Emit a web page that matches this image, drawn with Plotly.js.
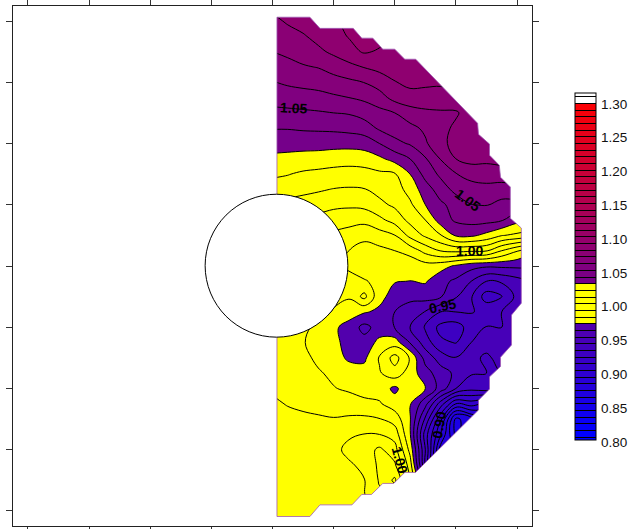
<!DOCTYPE html>
<html>
<head>
<meta charset="utf-8">
<script src="https://cdn.plot.ly/plotly-3.0.1.min.js"></script>
<style>
html,body{margin:0;padding:0;background:#fff}
#chart{width:628px;height:529px}
</style>
</head>
<body>
<div id="chart"></div>
<script>
// Grid node positions in axis units
const gridX = [0,2.5,5,7.5,10,12.5,15,17.5,20,22.5,25,27.5,30,32.5,35,37.5,40,42.5];
const gridY = [42.5,40,37.5,35,32.5,30,27.5,25,22.5,20,17.5,15,12.5,10,7.5,5,2.5,0,-2.5,-5,-7.5,-10,-12.5,-15,-17.5,-20,-22.5,-25,-27.5,-30,-32.5,-35,-37.5,-40,-42.5];

// Field values, one row per gridY (top to bottom); rows stop just past the domain edge
const fieldRows = [
[1.082,1.085,1.087,1.09,1.091,1.093,1.095,1.095],
[1.078,1.081,1.084,1.087,1.089,1.092,1.094,1.094],
[1.074,1.077,1.079,1.083,1.087,1.0905,1.095,1.093,1.09,1.09],
[1.07,1.072,1.075,1.078,1.082,1.087,1.091,1.089,1.088,1.087,1.087],
[1.065,1.067,1.069,1.0705,1.074,1.077,1.0805,1.083,1.084,1.085,1.087,1.088,1.088],
[1.0595,1.0615,1.062,1.0635,1.066,1.068,1.0702,1.0745,1.0795,1.083,1.082,1.082,1.085,1.086,1.086],
[1.054,1.055,1.057,1.057,1.0584,1.06,1.062,1.066,1.0736,1.0755,1.076,1.0747,1.076,1.078,1.078,1.078],
[1.0473,1.0477,1.048,1.049,1.05,1.0508,1.054,1.057,1.06,1.066,1.068,1.069,1.069,1.074,1.076,1.077,1.077],
[1.0405,1.0405,1.0412,1.0415,1.042,1.043,1.045,1.0515,1.0545,1.057,1.062,1.0675,1.0715,1.075,1.077,1.078,1.078],
[1.034,1.034,1.034,1.034,1.0335,1.0335,1.0345,1.04,1.0473,1.051,1.0585,1.068,1.0725,1.075,1.0765,1.0775,1.078],
[1.0278,1.027,1.026,1.0254,1.0244,1.0238,1.0245,1.028,1.0337,1.04,1.049,1.0605,1.07,1.0735,1.0725,1.0735,1.074],
[1.0216,1.0204,1.0185,1.0175,1.0165,1.016,1.0165,1.018,1.019,1.03,1.0435,1.052,1.0595,1.0635,1.0645,1.0655,1.066],
[1.0155,1.015,1.0127,1.011,1.0096,1.009,1.0095,1.013,1.015,1.024,1.035,1.045,1.053,1.0558,1.057,1.0553,1.057,1.057],
[1.006,1.006,1.0055,1.005,1.0024,1.0019,1.0027,1.0076,1.0118,1.018,1.03,1.038,1.044,1.0498,1.0505,1.047,1.0465,1.046],
[0.999,0.998,0.997,0.996,0.9945,0.993,0.9929,0.9975,1.0039,1.0128,1.02,1.035,1.0415,1.0433,1.0433,1.041,1.033,1.03],
[0.99,0.99,0.99,0.989,0.988,0.9865,0.9825,0.9857,0.9897,1.0029,1.0118,1.0193,1.0314,1.032,1.0272,1.0205,1.018,1.015],
[0.985,0.985,0.985,0.984,0.982,0.98,0.9765,0.9775,0.98,0.984,0.9933,1.0005,1.0025,1.0017,1.001,0.99,0.981,0.972],
[0.982,0.982,0.982,0.982,0.981,0.979,0.974,0.974,0.973,0.973,0.976,0.974,0.9685,0.9635,0.9615,0.962,0.962,0.962],
[0.983,0.983,0.983,0.983,0.983,0.982,0.981,0.977,0.9705,0.9698,0.971,0.963,0.958,0.95,0.94,0.9415,0.946,0.95],
[0.984,0.984,0.984,0.984,0.983,0.981,0.993,0.973,0.966,0.963,0.964,0.961,0.951,0.941,0.925,0.929,0.943,0.948],
[0.986,0.986,0.986,0.985,0.979,0.975,0.971,0.968,0.96,0.9544,0.9495,0.94,0.94,0.9405,0.938,0.94,0.9465,0.95],
[0.985,0.984,0.982,0.978,0.972,0.966,0.957,0.964,0.9598,0.95,0.9385,0.927,0.925,0.935,0.9402,0.94,0.9435,0.948],
[0.985,0.983,0.9805,0.977,0.973,0.966,0.9635,0.973,0.975,0.9595,0.9453,0.932,0.9295,0.94,0.9445,0.945,0.948,0.95],
[0.986,0.984,0.9825,0.978,0.975,0.968,0.968,0.981,0.994,0.979,0.956,0.9455,0.9405,0.943,0.938,0.944,0.95],
[0.988,0.9855,0.9835,0.981,0.978,0.976,0.974,0.979,0.986,0.975,0.9645,0.9545,0.948,0.941,0.94,0.94],
[0.9888,0.9865,0.985,0.9825,0.9805,0.9785,0.9755,0.976,0.9675,0.978,0.97,0.9557,0.94,0.933,0.935,0.93],
[0.9915,0.9895,0.9885,0.9875,0.986,0.9848,0.983,0.981,0.975,0.971,0.9535,0.925,0.9,0.905,0.9],
[0.9935,0.9925,0.9915,0.991,0.9905,0.9915,0.992,0.9905,0.9856,0.9708,0.938,0.902,0.857,0.868,0.88],
[0.9945,0.994,0.9935,0.993,0.995,0.9985,1.0003,1.0,0.9958,0.971,0.925,0.89,0.857,0.87],
[0.9955,0.9955,0.9955,0.9955,0.997,1.0028,1.005,1.012,1.004,0.977,0.93,0.875,0.87],
[0.997,0.997,0.997,0.9975,0.998,0.9985,1.0025,1.012,1.0115,0.985,0.93,0.88],
[0.998,0.998,0.998,0.9985,0.9985,0.999,0.9995,1.011,1.022,0.99,0.95],
[0.9985,0.9988,0.999,0.999,0.999,0.9992,0.9993,1.008,1.01,0.99],
[0.999,0.999,0.9992,0.9992,0.9993,0.9993,0.9994,1.0,1.0],
[0.999,0.999,0.9992,0.9992,0.9993,0.9993,0.9994,1.0,1.0]
];

const tickValues = [-40,-30,-20,-10,0,10,20,30,40];
const legendValues = [0.80,0.85,0.90,0.95,1.00,1.05,1.10,1.15,1.20,1.25,1.30];
const legendLabels = ["0.80","0.85","0.90","0.95","1.00","1.05","1.10","1.15","1.20","1.25","1.30"];

const labelText  = ["1.05","1.05","1.00","0.95","0.90","1.00"];
const labelX     = [3.5,31.9,32.2,27.8,27.3,20.8];
const labelY     = [25.76,10.74,2.4,-6.56,-26,-31.7];
const labelAngle = [3,37,0,-12,-80,75];

// Domain outline in axis units
const edgeX = [0.73,6.12,7.76,13.2,14.61,16.41,18.04,20.0,21.63,23.43,33.55,33.7,35.5,35.5,37.1,37.3,38.9,38.9,40.7,40.7,39.1,39.1,37.3,37.3,35.5,35.5,33.7,33.7,23.4,21.63,19.84,18.04,16.2,14.6,13.0,7.76,6.12,0.73];
const edgeY = [40.62,40.62,38.8,38.8,37.2,37.2,35.4,35.4,33.76,33.76,23.3,21.5,19.9,18.1,16.45,14.5,12.9,7.8,6.2,-6.07,-8.0,-12.9,-14.9,-16.4,-18.1,-20.1,-21.9,-23.5,-33.7,-33.7,-35.5,-35.5,-37.3,-37.3,-39.0,-39.0,-40.9,-40.9];
const holeX = [-11.02,12.33];
const holeY = [-11.62,11.72];

const rowLen = gridX.length;
const z = fieldRows.map(r => r.concat(new Array(rowLen - r.length).fill(null)));

// Discrete bands: 0.80 to 1.31 in steps of 0.01
const nBands = 51;
const bandColor = i => {
  if (i >= 17 && i < 23) return 'rgb(255,255,0)';
  if (i >= 50) return 'rgb(255,255,255)';
  const t = i / 50;
  return 'rgb(' + Math.round(255 * t) + ',0,' + Math.round(255 * (1 - t)) + ')';
};
const colorscale = [];
for (let i = 0; i < nBands; i++) {
  colorscale.push([i / nBands, bandColor(i)]);
  colorscale.push([(i + 1) / nBands, bandColor(i)]);
}

const frame = 42.45;
const plotW = 520, plotH = 520, plotL = 12.5, plotT = 6;
const barTop = 93, barBottom = 440, barLeft = 576, barW = 21;
const legendZeroY = 442, legendPerUnit = 676;

const trace = {
  type: 'contour',
  x: gridX, y: gridY, z: z,
  connectgaps: false,
  autocontour: false,
  contours: {start: 0.80, end: 1.3101, size: 0.01, coloring: 'fill', showlines: true},
  line: {color: '#000', width: 1, smoothing: 1.1},
  colorscale: colorscale,
  hoverinfo: 'skip',
  colorbar: {
    thickness: barW, thicknessmode: 'pixels',
    len: barBottom - barTop, lenmode: 'pixels',
    x: (barLeft - plotL) / plotW, xanchor: 'left', xpad: 0,
    y: 1 - (barTop - plotT) / plotH, yanchor: 'top', ypad: 0,
    outlinecolor: '#000', outlinewidth: 1,
    showticklabels: false, ticks: ''
  }
};

const outer = 'M' + (-frame) + ',' + (-frame) + ' L' + frame + ',' + (-frame) + ' L' + frame + ',' + frame + ' L' + (-frame) + ',' + frame + ' Z';
const inner = edgeX.map((x, i) => (i ? 'L' : 'M') + x + ',' + edgeY[i]).join(' ') + ' Z';

const shapes = [
  {type: 'path', xref: 'x', yref: 'y', layer: 'above', path: outer + ' ' + inner, fillcolor: '#fff', fillrule: 'evenodd', line: {width: 0}},
  {type: 'path', xref: 'x', yref: 'y', layer: 'above', path: inner, fillcolor: 'rgba(0,0,0,0)', line: {color: 'rgba(160,90,180,0.8)', width: 1}},
  {type: 'circle', xref: 'x', yref: 'y', layer: 'above', x0: holeX[0], x1: holeX[1], y0: holeY[0], y1: holeY[1], fillcolor: '#fff', line: {color: '#000', width: 1}}
];

const annotations = labelText.map((t, i) => ({
  xref: 'x', yref: 'y', x: labelX[i], y: labelY[i], text: t, showarrow: false, textangle: labelAngle[i],
  font: {family: 'Liberation Sans, Arial, sans-serif', size: 14, color: '#000', weight: 'bold'}
})).concat(legendValues.map((v, i) => ({
  xref: 'paper', yref: 'paper', xanchor: 'left', yanchor: 'middle', showarrow: false,
  x: (600 - plotL) / plotW,
  y: 1 - (legendZeroY - (v - 0.80) * legendPerUnit - plotT) / plotH,
  text: legendLabels[i],
  font: {family: 'Liberation Sans, Arial, sans-serif', size: 13.5, color: '#111'}
})));

const axisBase = {
  tickmode: 'array', tickvals: tickValues, showticklabels: false,
  ticks: 'outside', ticklen: 6, tickwidth: 1, tickcolor: '#333',
  showline: true, linecolor: '#222', linewidth: 1.2, mirror: 'allticks',
  showgrid: false, zeroline: false, fixedrange: true
};

const layout = {
  width: 628, height: 529,
  margin: {l: plotL, r: 628 - plotL - plotW, t: plotT, b: 529 - plotT - plotH, pad: 0, autoexpand: false},
  paper_bgcolor: '#fff', plot_bgcolor: '#fff',
  showlegend: false,
  xaxis: Object.assign({range: [-frame, frame]}, axisBase),
  yaxis: Object.assign({range: [-frame, frame]}, axisBase),
  shapes: shapes,
  annotations: annotations
};

Plotly.newPlot('chart', [trace], layout, {displayModeBar: false, staticPlot: true});
</script>
</body>
</html>
